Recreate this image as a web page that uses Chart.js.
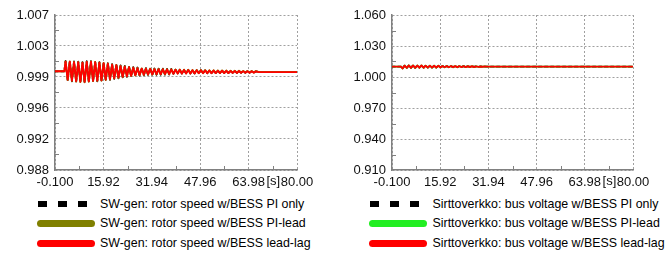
<!DOCTYPE html>
<html>
<head>
<meta charset="utf-8">
<script src="https://cdn.jsdelivr.net/npm/chart.js@4.4.1/dist/chart.umd.min.js"></script>
<style>
  html, body { margin:0; padding:0; background:#fff; width:665px; height:254px; overflow:hidden; position:relative; }
  canvas { position:absolute; top:0; }
  .lt { position:absolute; font-family:"Liberation Sans", Arial, sans-serif; font-size:12.4px; color:#000; white-space:nowrap; line-height:16px; }
  .sym { position:absolute; }
</style>
</head>
<body>
<canvas id="cL" width="330" height="190" style="left:0"></canvas>
<canvas id="cR" width="335" height="190" style="left:330px"></canvas>
<div id="leg"></div>
<script>
// ---------- DATA ----------
const xTicks = [-0.1, 15.92, 31.94, 47.96, 63.98, 80.0];
const xLabels = ['-0.100', '15.92', '31.94', '47.96', '63.98', '80.00'];

const yTicksL = [0.988, 0.9918, 0.9956, 0.9994, 1.0032, 1.007];
const yLabelsL = ['0.988', '0.992', '0.996', '0.999', '1.003', '1.007'];
const yTicksR = [0.91, 0.94, 0.97, 1.0, 1.03, 1.06];
const yLabelsR = ['0.910', '0.940', '0.970', '1.000', '1.030', '1.060'];

const legendL = ['SW-gen: rotor speed w/BESS PI only', 'SW-gen: rotor speed w/BESS PI-lead', 'SW-gen: rotor speed w/BESS lead-lag'];
const legendR = ['Sirttoverkko: bus voltage w/BESS PI only', 'Sirttoverkko: bus voltage w/BESS PI-lead', 'Sirttoverkko: bus voltage w/BESS lead-lag'];

// time [s] for rotor speed samples (peaks / troughs)
const timeL = [-0.1, 3.0,
  3.4, 4.1, 4.8, 5.5, 6.2, 6.9, 7.6, 8.3, 9.0, 9.7,
  10.4, 11.1, 11.8, 12.5, 13.2, 13.9, 14.6, 15.3, 16.0, 16.7,
  17.4, 18.1, 18.8, 19.5, 20.2, 20.9, 21.6, 22.3, 23.0, 23.7,
  24.4, 25.1, 25.8, 26.5, 27.2, 27.9, 28.6, 29.3, 30.0, 30.7,
  31.4, 32.1, 32.8, 33.5, 34.2, 34.9, 35.6, 36.3, 37.0, 37.7,
  38.4, 39.1, 39.8, 40.5, 41.2, 41.9, 42.6, 43.3, 44.0, 44.7,
  45.4, 46.1, 46.8, 47.5, 48.2, 48.9, 49.6, 50.3, 51.0, 51.7,
  52.4, 53.1, 53.8, 54.5, 55.2, 55.9, 56.6, 57.3, 58.0, 58.7,
  59.4, 60.1, 60.8, 61.5, 62.2, 62.9, 63.6, 64.3, 65.0, 65.7,
  66.4, 67.1, 80.0];

const speedPIonly = [1.0001, 1.0001,
  1.00136, 0.99899, 1.00136, 0.99887, 1.00130, 0.99880, 1.00128, 0.99874, 1.00123, 0.99872,
  1.00133, 0.99878, 1.00135, 0.99885, 1.00128, 0.99887, 1.00123, 0.99892, 1.00116, 0.99899,
  1.00110, 0.99905, 1.00098, 0.99917, 1.00093, 0.99924, 1.00081, 0.99935, 1.00075, 0.99942,
  1.00068, 0.99948, 1.00062, 0.99954, 1.00056, 0.99958, 1.00050, 0.99960, 1.00049, 0.99963,
  1.00047, 0.99965, 1.00044, 0.99967, 1.00043, 0.99968, 1.00042, 0.99969, 1.00040, 0.99970,
  1.00039, 0.99980, 1.00029, 0.99981, 1.00028, 0.99982, 1.00027, 0.99982, 1.00025, 0.99983,
  1.00024, 0.99984, 1.00022, 0.99985, 1.00022, 0.99986, 1.00021, 0.99986, 1.00019, 0.99987,
  1.00019, 0.99988, 1.00017, 0.99988, 1.00017, 0.99989, 1.00016, 0.99989, 1.00014, 0.99990,
  1.00014, 0.99990, 1.00013, 0.99991, 1.00012, 0.99991, 1.00011, 0.99992, 1.00010, 0.99993,
  1.00009, 1.00002, 1.00000];

const speedPIlead = [1.0001, 1.0001,
  1.00132, 0.99903, 1.00132, 0.99891, 1.00126, 0.99884, 1.00124, 0.99878, 1.00119, 0.99876,
  1.00129, 0.99882, 1.00131, 0.99889, 1.00124, 0.99891, 1.00119, 0.99896, 1.00112, 0.99903,
  1.00106, 0.99909, 1.00094, 0.99921, 1.00089, 0.99928, 1.00077, 0.99939, 1.00071, 0.99946,
  1.00064, 0.99952, 1.00058, 0.99958, 1.00052, 0.99962, 1.00046, 0.99964, 1.00045, 0.99967,
  1.00043, 0.99969, 1.00040, 0.99971, 1.00039, 0.99972, 1.00038, 0.99973, 1.00036, 0.99974,
  1.00035, 0.99983, 1.00032, 0.99984, 1.00031, 0.99985, 1.00030, 0.99985, 1.00028, 0.99986,
  1.00027, 0.99987, 1.00025, 0.99988, 1.00025, 0.99989, 1.00024, 0.99989, 1.00022, 0.99990,
  1.00022, 0.99991, 1.00020, 0.99991, 1.00020, 0.99992, 1.00019, 0.99992, 1.00017, 0.99993,
  1.00017, 0.99993, 1.00016, 0.99994, 1.00015, 0.99994, 1.00014, 0.99995, 1.00013, 0.99996,
  1.00012, 1.00004, 1.00003];

const speedLeadLag = [1.0001, 1.0001,
  1.00128, 0.99907, 1.00128, 0.99895, 1.00122, 0.99888, 1.00120, 0.99882, 1.00115, 0.99880,
  1.00125, 0.99886, 1.00127, 0.99893, 1.00120, 0.99895, 1.00115, 0.99900, 1.00108, 0.99907,
  1.00102, 0.99913, 1.00090, 0.99925, 1.00085, 0.99932, 1.00073, 0.99943, 1.00067, 0.99950,
  1.00060, 0.99956, 1.00054, 0.99962, 1.00048, 0.99966, 1.00042, 0.99968, 1.00041, 0.99971,
  1.00039, 0.99973, 1.00036, 0.99975, 1.00035, 0.99976, 1.00034, 0.99977, 1.00032, 0.99978,
  1.00031, 0.99980, 1.00029, 0.99981, 1.00028, 0.99982, 1.00027, 0.99982, 1.00025, 0.99983,
  1.00024, 0.99984, 1.00022, 0.99985, 1.00022, 0.99986, 1.00021, 0.99986, 1.00019, 0.99987,
  1.00019, 0.99988, 1.00017, 0.99988, 1.00017, 0.99989, 1.00016, 0.99989, 1.00014, 0.99990,
  1.00014, 0.99990, 1.00013, 0.99991, 1.00012, 0.99991, 1.00011, 0.99992, 1.00010, 0.99993,
  1.00009, 1.00002, 1.00000];

// time [s] for bus voltage samples
const timeR = [-0.1, 2.9,
  3.4, 4.1, 4.8, 5.5, 6.2, 6.9, 7.6, 8.3, 9.0, 9.7,
  10.4, 11.1, 11.8, 12.5, 13.2, 13.9, 14.6, 15.3, 16.0, 16.7,
  17.4, 18.1, 18.8, 19.5, 20.2, 20.9, 21.6, 22.3, 23.0, 23.7,
  24.4, 25.1, 25.8, 26.5, 27.2, 27.9, 28.6, 29.3, 30.0, 30.7,
  31.4, 80.0];

const busPIonly = [1.0100, 1.0100,
  1.0082, 1.0110, 1.0089, 1.0112, 1.0089, 1.0112, 1.0089, 1.0111, 1.0090, 1.0111,
  1.0090, 1.0110, 1.0091, 1.0110, 1.0091, 1.0109, 1.0092, 1.0108, 1.0093, 1.0107,
  1.0094, 1.0107, 1.0094, 1.0106, 1.0095, 1.0106, 1.0095, 1.0105, 1.0096, 1.0105,
  1.0096, 1.0104, 1.0097, 1.0104, 1.0097, 1.0103, 1.0098, 1.0102, 1.0099, 1.0101,
  1.0100, 1.0100];

const busPIlead = [1.0100, 1.0100,
  1.0082, 1.0110, 1.0089, 1.0112, 1.0089, 1.0112, 1.0089, 1.0111, 1.0090, 1.0111,
  1.0090, 1.0110, 1.0091, 1.0110, 1.0091, 1.0109, 1.0092, 1.0108, 1.0093, 1.0107,
  1.0094, 1.0107, 1.0094, 1.0106, 1.0095, 1.0106, 1.0095, 1.0105, 1.0096, 1.0105,
  1.0096, 1.0104, 1.0097, 1.0104, 1.0097, 1.0103, 1.0098, 1.0102, 1.0099, 1.0101,
  1.0100, 1.0100];

const busLeadLag = [1.0100, 1.0100,
  1.0082, 1.0110, 1.0089, 1.0112, 1.0089, 1.0112, 1.0089, 1.0111, 1.0090, 1.0111,
  1.0090, 1.0110, 1.0091, 1.0110, 1.0091, 1.0109, 1.0092, 1.0108, 1.0093, 1.0107,
  1.0094, 1.0107, 1.0094, 1.0106, 1.0095, 1.0106, 1.0095, 1.0105, 1.0096, 1.0105,
  1.0096, 1.0104, 1.0097, 1.0104, 1.0097, 1.0103, 1.0098, 1.0102, 1.0099, 1.0101,
  1.0100, 1.0100];

// ---------- RENDER ----------
const FONT = '"Liberation Sans", Arial, sans-serif';
const zip = (t, v) => v.map((y, i) => ({x: t[i], y: y})).filter(p => p.x !== undefined);

const extras = {
  id: 'extras',
  afterDraw(chart) {
    const {ctx, chartArea: a, scales: {x, y}} = chart;
    const yT = chart.options.plugins.extras.yTicks;
    ctx.save();
    ctx.strokeStyle = '#808080';
    ctx.lineWidth = 1;
    for (let i = 0; i < xTicks.length - 1; i++) {
      const px = Math.round(x.getPixelForValue((xTicks[i] + xTicks[i + 1]) / 2)) + 0.5;
      ctx.beginPath(); ctx.moveTo(px, a.bottom); ctx.lineTo(px, a.bottom - 4); ctx.stroke();
    }
    for (let i = 0; i < yT.length - 1; i++) {
      const py = Math.round(y.getPixelForValue((yT[i] + yT[i + 1]) / 2)) + 0.5;
      ctx.beginPath(); ctx.moveTo(a.left, py); ctx.lineTo(a.left + 4, py); ctx.stroke();
    }
    ctx.fillStyle = '#111';
    ctx.font = '13px ' + FONT;
    ctx.textAlign = 'center';
    ctx.textBaseline = 'top';
    const sx = (x.getPixelForValue(xTicks[4]) + x.getPixelForValue(xTicks[5])) / 2 + 0.5;
    ctx.fillText('[s]', sx, a.bottom + 5);
    ctx.restore();
  }
};

function makeChart(id, time, series, colors, yMin, yMax, yT, yL, leftW, rightPad) {
  const datasets = series.map((s, i) => ({
    data: zip(time, s),
    borderColor: colors[i],
    borderWidth: i === 0 ? 1.8 : 1.9,
    borderDash: i === 0 ? [3, 3] : [],
    borderJoinStyle: 'round',
    borderCapStyle: 'round',
    pointRadius: 0,
    tension: 0,
    order: 2 - i
  }));
  return new Chart(document.getElementById(id), {
    type: 'line',
    data: { datasets },
    plugins: [extras],
    options: {
      responsive: false,
      animation: false,
      devicePixelRatio: 1,
      layout: { padding: { left: 0, right: rightPad, top: 15, bottom: 0 } },
      plugins: { legend: { display: false }, tooltip: { enabled: false }, extras: { yTicks: yT } },
      scales: {
        x: {
          type: 'linear', min: -0.1, max: 80,
          afterBuildTicks: s => { s.ticks = xTicks.map(v => ({value: v})); },
          afterFit: s => { s.height = 20; },
          ticks: { callback: (v, i) => xLabels[i], autoSkip: false, maxRotation: 0, minRotation: 0, padding: 5,
                   font: { family: FONT, size: 13 }, color: '#111' },
          grid: { color: '#a0a0a0', lineWidth: 1, drawTicks: false },
          border: { display: true, color: '#808080', width: 1.5, dash: [2, 2] }
        },
        y: {
          type: 'linear', min: yMin, max: yMax,
          afterBuildTicks: s => { s.ticks = yT.map(v => ({value: v})); },
          afterFit: s => { s.width = leftW; },
          ticks: { callback: (v, i) => yL[i], autoSkip: false, padding: 6,
                   font: { family: FONT, size: 13 }, color: '#111' },
          grid: { color: '#a0a0a0', lineWidth: 1, drawTicks: false },
          border: { display: true, color: '#808080', width: 1.5, dash: [2, 2] }
        }
      }
    }
  });
}

makeChart('cL', timeL, [speedPIonly, speedPIlead, speedLeadLag], ['#000000', '#808000', '#ff0000'],
  0.988, 1.007, yTicksL, yLabelsL, 55, 33);
makeChart('cR', timeR, [busPIonly, busPIlead, busLeadLag], ['#000000', '#22ee22', '#ff0000'],
  0.91, 1.06, yTicksR, yLabelsR, 62, 32);

// ---------- LEGENDS ----------
const leg = document.getElementById('leg');
const rowsY = [204, 223.5, 243.5];
function addLegend(symLeft, textLeft, labels, colors) {
  labels.forEach((txt, i) => {
    const cy = rowsY[i];
    if (i === 0) {
      for (let k = 0; k < 3; k++) {
        const d = document.createElement('div');
        d.className = 'sym';
        d.style.cssText = `left:${symLeft + 1 + k * 20}px;top:${cy - 3.5}px;width:8.5px;height:6.5px;background:${colors[i]}`;
        leg.appendChild(d);
      }
    } else {
      const d = document.createElement('div');
      d.className = 'sym';
      d.style.cssText = `left:${symLeft}px;top:${cy - 3.5}px;width:58px;height:7px;border-radius:3.5px;background:${colors[i]}`;
      leg.appendChild(d);
    }
    const t = document.createElement('div');
    t.className = 'lt';
    t.style.left = textLeft + 'px';
    t.style.top = (cy - 8.5) + 'px';
    t.textContent = txt;
    leg.appendChild(t);
  });
}
addLegend(37, 100, legendL, ['#000000', '#808000', '#ff0000']);
addLegend(369, 432.5, legendR, ['#000000', '#22ee22', '#ff0000']);
</script>
</body>
</html>
